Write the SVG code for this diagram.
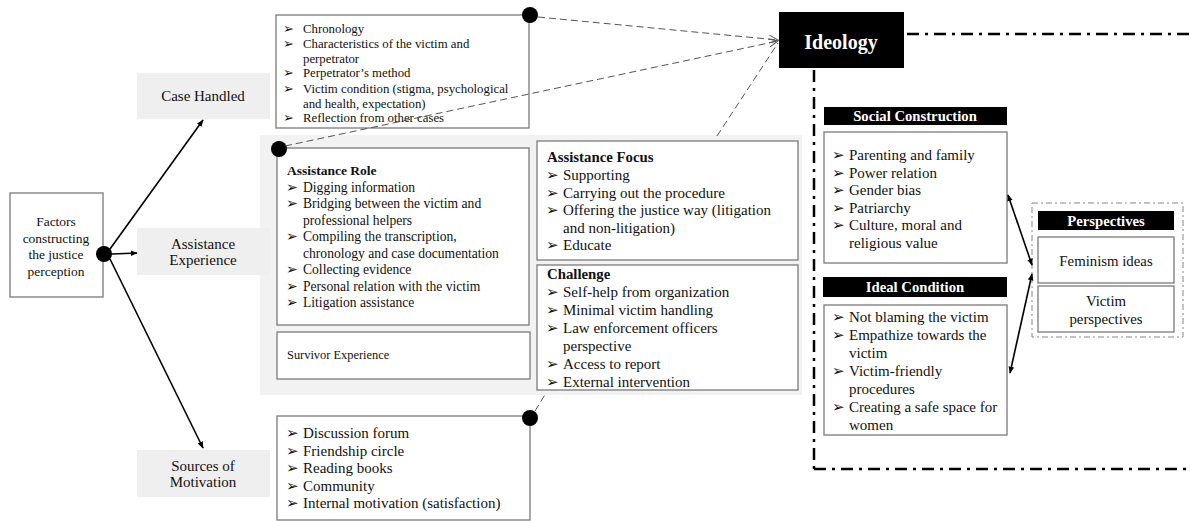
<svg xmlns="http://www.w3.org/2000/svg" width="1190" height="521" viewBox="0 0 1190 521">
<style>
.t{font-family:"Liberation Serif","Times New Roman",serif;fill:#111}
.b{font-family:"DejaVu Sans",sans-serif;fill:#111}
.box{fill:#fff;stroke:#7a7a7a;stroke-width:1.3}
.lab{fill:#efefef}
.hdr{fill:#000}
.wt{font-family:"Liberation Serif","Times New Roman",serif;fill:#fff;font-weight:bold}
.sol{stroke:#000;stroke-width:1.6;fill:none}
.dsh{stroke:#555;stroke-width:1;stroke-dasharray:7 4;fill:none}
.dd{stroke:#000;stroke-width:2.5;stroke-dasharray:12 6 3 6;fill:none}
</style>
<defs>
<marker id="ah" viewBox="0 0 10 10" refX="9" refY="5" markerWidth="7" markerHeight="7" orient="auto-start-reverse" markerUnits="userSpaceOnUse"><path d="M0,1 L10,5 L0,9 Z" fill="#000"/></marker>
<marker id="oa" viewBox="0 0 10 10" refX="9" refY="5" markerWidth="10" markerHeight="10" orient="auto" markerUnits="userSpaceOnUse"><path d="M0,1 L9,5 L0,9" fill="none" stroke="#555" stroke-width="1"/></marker>
</defs>
<rect width="1190" height="521" fill="#fff"/>

<g id="bg-assistance"><rect x="260" y="135" width="542" height="260" fill="#f2f2f2"/></g>

<g id="factors">
<rect x="10" y="193" width="93" height="104" class="box"/>
<text class="t" font-size="13.5" text-anchor="middle"><tspan x="56" y="226">Factors</tspan><tspan x="56" y="243">constructing</tspan><tspan x="56" y="259">the justice</tspan><tspan x="56" y="276">perception</tspan></text>
</g>

<g id="case-handled">
<rect x="137" y="73" width="133" height="46" class="lab"/>
<text class="t" font-size="15" x="203" y="101" text-anchor="middle">Case Handled</text>
</g>

<g id="assistance-experience">
<rect x="137" y="228" width="133" height="47" class="lab"/>
<text class="t" font-size="15" text-anchor="middle"><tspan x="203" y="249">Assistance</tspan><tspan x="203" y="265">Experience</tspan></text>
</g>

<g id="sources-motivation">
<rect x="137" y="450" width="133" height="47" class="lab"/>
<text class="t" font-size="15" text-anchor="middle"><tspan x="203" y="471">Sources of</tspan><tspan x="203" y="487">Motivation</tspan></text>
</g>

<g id="case-details">
<rect x="276" y="15" width="253" height="113" class="box"/>
<g class="b" font-size="13"><text x="283" y="33">➢</text><text x="283" y="48">➢</text><text x="283" y="77">➢</text><text x="283" y="93">➢</text><text x="283" y="122">➢</text></g>
<g class="t" font-size="12.8">
<text x="303" y="33">Chronology</text>
<text x="303" y="48">Characteristics of the victim and</text>
<text x="303" y="63">perpetrator</text>
<text x="303" y="77">Perpetrator’s method</text>
<text x="303" y="93">Victim condition (stigma, psychological</text>
<text x="303" y="108">and health, expectation)</text>
<text x="303" y="122">Reflection from other cases</text>
</g>
<circle cx="530" cy="15" r="8" fill="#000"/>
</g>

<g id="assistance-role">
<rect x="277" y="148" width="252" height="177" class="box"/>
<text class="t" font-size="13.5" font-weight="bold" x="287" y="175">Assistance Role</text>
<g class="b" font-size="14"><text x="286" y="191.5">➢</text><text x="286" y="208">➢</text><text x="286" y="241">➢</text><text x="286" y="274">➢</text><text x="286" y="290.5">➢</text><text x="286" y="307">➢</text></g>
<g class="t" font-size="13.6">
<text x="303" y="191.5">Digging information</text>
<text x="303" y="208">Bridging between the victim and</text>
<text x="303" y="224.5">professional helpers</text>
<text x="303" y="241">Compiling the transcription,</text>
<text x="303" y="257.5">chronology and case documentation</text>
<text x="303" y="274">Collecting evidence</text>
<text x="303" y="290.5">Personal relation with the victim</text>
<text x="303" y="307">Litigation assistance</text>
</g>
<circle cx="279" cy="149" r="8" fill="#000"/>
</g>

<g id="survivor-experience">
<rect x="277" y="332" width="253" height="47" class="box"/>
<text class="t" font-size="12.4" x="287" y="359">Survivor Experience</text>
</g>

<g id="assistance-focus">
<rect x="537" y="141" width="261" height="119" class="box"/>
<text class="t" font-size="14.8" font-weight="bold" x="547" y="162">Assistance Focus</text>
<g class="b" font-size="15"><text x="546" y="180">➢</text><text x="546" y="198">➢</text><text x="546" y="215">➢</text><text x="546" y="250">➢</text></g>
<g class="t" font-size="15">
<text x="563" y="180">Supporting</text>
<text x="563" y="198">Carrying out the procedure</text>
<text x="563" y="215">Offering the justice way (litigation</text>
<text x="563" y="233">and non-litigation)</text>
<text x="563" y="250">Educate</text>
</g>
</g>

<g id="challenge">
<rect x="537" y="265" width="261" height="125" class="box"/>
<text class="t" font-size="14.8" font-weight="bold" x="547" y="279">Challenge</text>
<g class="b" font-size="15"><text x="546" y="297">➢</text><text x="546" y="315">➢</text><text x="546" y="333">➢</text><text x="546" y="369">➢</text><text x="546" y="387">➢</text></g>
<g class="t" font-size="15">
<text x="563" y="297">Self-help from organization</text>
<text x="563" y="315">Minimal victim handling</text>
<text x="563" y="333">Law enforcement officers</text>
<text x="563" y="351">perspective</text>
<text x="563" y="369">Access to report</text>
<text x="563" y="387">External intervention</text>
</g>
</g>

<g id="motivation-details">
<rect x="277" y="416" width="253" height="104" class="box"/>
<g class="b" font-size="15"><text x="286" y="438">➢</text><text x="286" y="455.5">➢</text><text x="286" y="473">➢</text><text x="286" y="490.5">➢</text><text x="286" y="508">➢</text></g>
<g class="t" font-size="15">
<text x="303" y="438">Discussion forum</text>
<text x="303" y="455.5">Friendship circle</text>
<text x="303" y="473">Reading books</text>
<text x="303" y="490.5">Community</text>
<text x="303" y="508">Internal motivation (satisfaction)</text>
</g>
<circle cx="530" cy="418" r="8" fill="#000"/>
</g>

<g id="ideology">
<rect x="779" y="12" width="125" height="56" class="hdr"/>
<text class="wt" font-size="20" x="841" y="49" text-anchor="middle">Ideology</text>
</g>

<g id="social-construction">
<rect x="824" y="107" width="183" height="18" class="hdr"/>
<text class="wt" font-size="14.7" x="915" y="121" text-anchor="middle">Social Construction</text>
<rect x="824" y="132" width="183" height="131" class="box"/>
<g class="b" font-size="15"><text x="832" y="160">➢</text><text x="832" y="177.5">➢</text><text x="832" y="195">➢</text><text x="832" y="212.5">➢</text><text x="832" y="230">➢</text></g>
<g class="t" font-size="15">
<text x="849" y="160">Parenting and family</text>
<text x="849" y="177.5">Power relation</text>
<text x="849" y="195">Gender bias</text>
<text x="849" y="212.5">Patriarchy</text>
<text x="849" y="230">Culture, moral and</text>
<text x="849" y="247.5">religious value</text>
</g>
</g>

<g id="ideal-condition">
<rect x="823" y="277" width="184" height="20" class="hdr"/>
<text class="wt" font-size="14.7" x="915" y="292" text-anchor="middle">Ideal Condition</text>
<rect x="824" y="305" width="183" height="130" class="box"/>
<g class="b" font-size="15"><text x="832" y="322">➢</text><text x="832" y="340">➢</text><text x="832" y="376">➢</text><text x="832" y="412">➢</text></g>
<g class="t" font-size="15">
<text x="849" y="322">Not blaming the victim</text>
<text x="849" y="340">Empathize towards the</text>
<text x="849" y="358">victim</text>
<text x="849" y="376">Victim-friendly</text>
<text x="849" y="394">procedures</text>
<text x="849" y="412">Creating a safe space for</text>
<text x="849" y="430">women</text>
</g>
</g>

<g id="perspectives">
<rect x="1032" y="203" width="151" height="134" fill="none" stroke="#888" stroke-width="1" stroke-dasharray="6 3 2 3"/>
<rect x="1038" y="211" width="136" height="19" class="hdr"/>
<text class="wt" font-size="14.7" x="1106" y="225.5" text-anchor="middle">Perspectives</text>
<rect x="1038" y="237" width="136" height="46" class="box"/>
<text class="t" font-size="14.8" x="1106" y="266" text-anchor="middle">Feminism ideas</text>
<rect x="1038" y="286" width="136" height="46" class="box"/>
<text class="t" font-size="14.8" text-anchor="middle"><tspan x="1106" y="306">Victim</tspan><tspan x="1106" y="324">perspectives</tspan></text>
</g>

<g id="connectors">
<circle cx="104" cy="254" r="8" fill="#000"/>
<line x1="110" y1="249" x2="203" y2="120" class="sol" marker-end="url(#ah)"/>
<line x1="112" y1="254" x2="137" y2="253" class="sol" marker-end="url(#ah)"/>
<line x1="110" y1="259" x2="203" y2="448" class="sol" marker-end="url(#ah)"/>
<line x1="538" y1="17" x2="778" y2="40" class="dsh" marker-end="url(#oa)"/>
<line x1="285" y1="146" x2="778" y2="41" class="dsh" marker-end="url(#oa)"/>
<line x1="717" y1="136" x2="778" y2="43" class="dsh"/>
<line x1="535" y1="411" x2="546" y2="393" class="dsh"/>
<line x1="1008" y1="195" x2="1032" y2="265" class="sol" marker-start="url(#ah)" marker-end="url(#ah)"/>
<line x1="1032" y1="274" x2="1010" y2="373" class="sol" marker-start="url(#ah)" marker-end="url(#ah)"/>
<line x1="907" y1="34" x2="1190" y2="34" class="dd"/>
<line x1="814" y1="70" x2="814" y2="469" class="dd"/>
<line x1="814" y1="469" x2="1190" y2="469" class="dd"/>
</g>
</svg>
